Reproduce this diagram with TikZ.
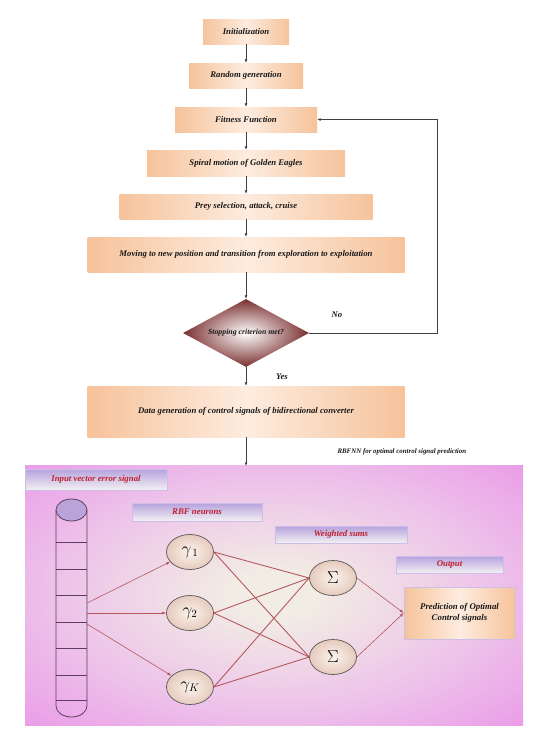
\documentclass[tikz,border=0pt]{standalone}
\usepackage{fontspec}
\setmainfont{Liberation Serif}
\usetikzlibrary{shapes.geometric,arrows.meta}
\definecolor{peachE}{HTML}{F6C39B}
\definecolor{peachC}{HTML}{FDECDF}
\definecolor{lavT}{HTML}{B6A2DE}
\definecolor{lavB}{HTML}{F2F0F2}
\definecolor{lavD}{HTML}{CDBDE8}
\definecolor{tagtext}{HTML}{C0202E}
\definecolor{pinkO}{HTML}{EA90E7}
\definecolor{pinkM}{HTML}{EDC2EA}
\definecolor{pinkI}{HTML}{F2EDE4}
\definecolor{decO}{HTML}{7A2E2E}
\definecolor{netline}{HTML}{B5585E}
\definecolor{cylc}{HTML}{5E3D5E}
\definecolor{cyltop}{HTML}{B9A3D8}
\definecolor{neurO}{HTML}{E6CABD}
\definecolor{neurI}{HTML}{FBF3EC}
\pgfdeclareradialshading{panelshade}{\pgfpoint{0bp}{0bp}}{color(0bp)=(pinkI); color(4bp)=(pinkI); color(22bp)=(pinkM); color(40bp)=(pinkO); color(50bp)=(pinkO)}
\tikzset{
  lbl/.style={font=\bfseries\itshape\fontsize{8.7}{10.4}\selectfont, text=black!90},
  flowbox/.style={lbl, shade, left color=peachE, right color=peachE, middle color=peachC, inner sep=0pt},
  decision/.style={diamond, shade, inner color=white, outer color=decO, minimum width=126pt, minimum height=68pt, inner sep=0pt},
  flowarrow/.style={draw=black!75, line width=0.8pt, -{Latex[length=3.5pt,width=3pt]}},
  tag/.style={font=\bfseries\itshape\fontsize{8.8}{10.5}\selectfont, text=tagtext, shade, top color=lavT, bottom color=lavB, draw=lavD, line width=0.6pt, inner sep=0pt},
  neuron/.style={ellipse, shade, inner color=neurI, outer color=neurO, draw=black!65, line width=0.7pt, minimum width=47pt, minimum height=35pt, inner sep=0pt, font=\fontsize{16}{18}\selectfont},
  netlink/.style={draw=netline, line width=0.9pt},
  netarrow/.style={draw=netline, line width=0.6pt, -{Latex[length=4pt,width=3pt]}},
  cylline/.style={draw=cylc, line width=0.8pt},
}
\begin{document}
\begin{tikzpicture}[x=1pt,y=-1pt]
\useasboundingbox (0,0) rectangle (541,732);
% flowchart
\node[flowbox, minimum width=86pt, minimum height=25pt] (init) at (246,31.5) {Initialization};
\node[flowbox, minimum width=114pt, minimum height=25pt] (rand) at (246,75.5) {Random generation};
\node[flowbox, minimum width=142pt, minimum height=25pt] (fit) at (246,119.5) {Fitness Function};
\node[flowbox, minimum width=198pt, minimum height=26pt] (spiral) at (246,163) {Spiral motion of Golden Eagles};
\node[flowbox, minimum width=253pt, minimum height=25pt] (prey) at (246,206.5) {Prey selection, attack, cruise};
\node[flowbox, minimum width=317pt, minimum height=35pt] (move) at (246,254.5) {Moving to new position and transition from exploration to exploitation};
\node[decision] (dec) at (246,333) {};
\node[lbl, font=\bfseries\itshape\fontsize{7.8}{9}\selectfont] (dectext) at (dec.center) {Stopping criterion met?};
\node[flowbox, minimum width=317pt, minimum height=51pt] (data) at (246,411.5) {Data generation of control signals of bidirectional converter};
\draw[flowarrow] (init) -- (rand);
\draw[flowarrow] (rand) -- (fit);
\draw[flowarrow] (fit) -- (spiral);
\draw[flowarrow] (spiral) -- (prey);
\draw[flowarrow] (prey) -- (move);
\draw[flowarrow] (move) -- (dec);
\draw[flowarrow] (dec) -- (data);
\coordinate (fbc) at (437,333);
\draw[flowarrow] (dec.east) -- (fbc) |- (fit.east);
\node[lbl] (no) at (337,315) {No};
\node[lbl] (yes) at (282,377) {Yes};
\node[lbl, anchor=west, font=\bfseries\itshape\fontsize{6.9}{8}\selectfont] (rbfnn) at (334,452) {RBFNN for optimal control signal prediction};
% panel
\shade[shading=panelshade] (25,465) rectangle (523,725);
\coordinate (pin) at (246,466);
\draw[flowarrow] (data.south) -- (pin);
% tags
\node[tag, minimum width=142pt, minimum height=21pt] (tin) at (96,479.5) {Input vector error signal};
\node[tag, minimum width=130pt, minimum height=18pt] (trbf) at (197,512) {RBF neurons};
\node[tag, minimum width=132pt, minimum height=17pt] (tws) at (341,534.5) {Weighted sums};
\node[tag, minimum width=107pt, minimum height=17pt] (tout) at (449.5,564.5) {Output};
\node[flowbox, font=\bfseries\itshape\fontsize{8.8}{11}\selectfont, draw=lavD, line width=0.6pt, minimum width=111pt, minimum height=52pt, align=center] (pred) at (459.5,613) {Prediction of Optimal\\Control signals};
% cylinder
\draw[cylline] (56,510) -- (56,706) arc[start angle=180, end angle=360, x radius=15.5, y radius=-11] -- (87,510);
\foreach \yy in {542,569,595,622,648,675,700}{\draw[cylline] (56,\yy) -- (87,\yy);}
\draw[cylline, fill=cyltop] (71.5,510) ellipse[x radius=15.5, y radius=11];
\coordinate (cy1) at (87,603);
\coordinate (cy2) at (87,613);
\coordinate (cy3) at (87,624);
% neurons
\node[neuron] (g1) at (190,552) {$\gamma_{\,1}$};
\node[neuron] (g2) at (190,613) {$\gamma_2$};
\node[neuron] (gk) at (190,687) {$\gamma_K$};
\node[neuron, font=\fontsize{18}{20}\selectfont] (s1) at (333,578) {$\Sigma$};
\node[neuron, font=\fontsize{18}{20}\selectfont] (s2) at (333,657) {$\Sigma$};
\draw[netarrow] (cy1) -- (g1);
\draw[netarrow] (cy2) -- (g2);
\draw[netarrow] (cy3) -- (gk);
\foreach \g in {g1,g2,gk}{\foreach \s in {s1,s2}{\draw[netlink] (\g.east) -- (\s.west);}}
\draw[netarrow] (s1.east) -- (pred.west);
\draw[netarrow] (s2.east) -- (pred.west);
\end{tikzpicture}
\end{document}
